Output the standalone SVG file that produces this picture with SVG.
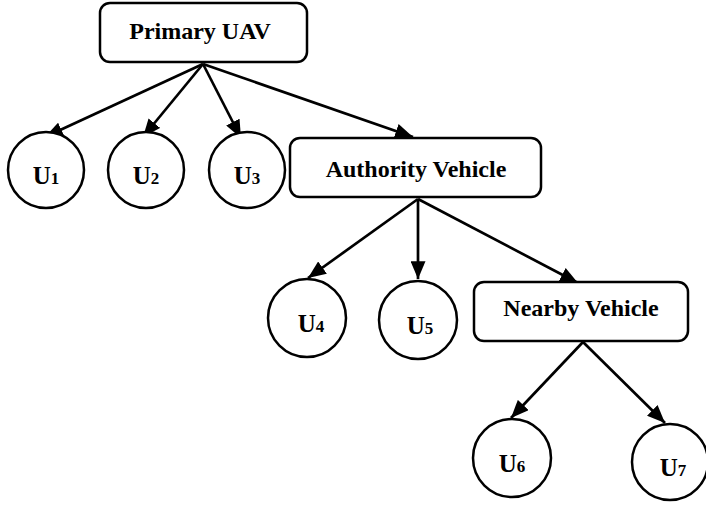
<svg xmlns="http://www.w3.org/2000/svg" width="706" height="506" viewBox="0 0 706 506">
<defs>
<marker id="ah" viewBox="0 0 10 8.4" refX="10" refY="4.2" markerWidth="7" markerHeight="6" markerUnits="userSpaceOnUse" orient="auto">
<path d="M0,0 L10,4.2 L0,8.4 z" fill="#000"/>
</marker>
<marker id="ahb" viewBox="0 0 10 8.4" refX="10" refY="4.2" markerWidth="18" markerHeight="15" markerUnits="userSpaceOnUse" orient="auto">
<path d="M0,0 L10,4.2 L0,8.4 z" fill="#000"/>
</marker>
<style>
.box{fill:#fff;stroke:#000;stroke-width:2.5}
.circ{fill:#fff;stroke:#000;stroke-width:2.5}
.lbl{font-family:"Liberation Serif","Times New Roman",serif;font-weight:bold;font-size:24px;text-anchor:middle;fill:#000}
.u{font-family:"Liberation Serif","Times New Roman",serif;font-weight:bold;font-size:25px;text-anchor:middle;fill:#000}
.sub{font-size:17px}
.edge{stroke:#000;stroke-width:2.7;fill:none;marker-end:url(#ahb)}
</style>
</defs>
<rect width="706" height="506" fill="#fff"/>
<g id="connectors">
<line class="edge" x1="203" y1="64" x2="45" y2="137"/>
<line class="edge" x1="203" y1="64" x2="143" y2="137"/>
<line class="edge" x1="203" y1="64" x2="241" y2="138"/>
<line class="edge" x1="203" y1="64" x2="413" y2="137"/>
<line class="edge" x1="418" y1="199" x2="308" y2="278"/>
<line class="edge" x1="418" y1="199" x2="418" y2="279"/>
<line class="edge" x1="418" y1="199" x2="578" y2="283"/>
<line class="edge" x1="583" y1="342" x2="511" y2="418"/>
<line class="edge" x1="583" y1="342" x2="665" y2="423"/>
</g>
<g id="primary">
<rect class="box" x="100" y="3" width="207" height="59" rx="10"/>
<text class="lbl" x="200" y="39">Primary UAV</text>
</g>
<g id="u1">
<circle class="circ" cx="46" cy="170" r="38"/>
<text class="u" x="46" y="184">U<tspan class="sub">1</tspan></text>
</g>
<g id="u2">
<circle class="circ" cx="146" cy="170" r="38"/>
<text class="u" x="146" y="184">U<tspan class="sub">2</tspan></text>
</g>
<g id="u3">
<circle class="circ" cx="247" cy="170" r="38"/>
<text class="u" x="247" y="184">U<tspan class="sub">3</tspan></text>
</g>
<g id="authority">
<rect class="box" x="290" y="138" width="251" height="59" rx="10"/>
<text class="lbl" x="416" y="177">Authority Vehicle</text>
</g>
<g id="u4">
<circle class="circ" cx="307" cy="318" r="39"/>
<text class="u" x="311" y="332">U<tspan class="sub">4</tspan></text>
</g>
<g id="u5">
<circle class="circ" cx="418" cy="320" r="39"/>
<text class="u" x="420" y="334">U<tspan class="sub">5</tspan></text>
</g>
<g id="nearby">
<rect class="box" x="474" y="282" width="214" height="59" rx="10"/>
<text class="lbl" x="581" y="316">Nearby Vehicle</text>
</g>
<g id="u6">
<circle class="circ" cx="512" cy="458" r="39"/>
<text class="u" x="512" y="472">U<tspan class="sub">6</tspan></text>
</g>
<g id="u7">
<circle class="circ" cx="670" cy="462" r="38"/>
<text class="u" x="673" y="476">U<tspan class="sub">7</tspan></text>
</g>
</svg>
